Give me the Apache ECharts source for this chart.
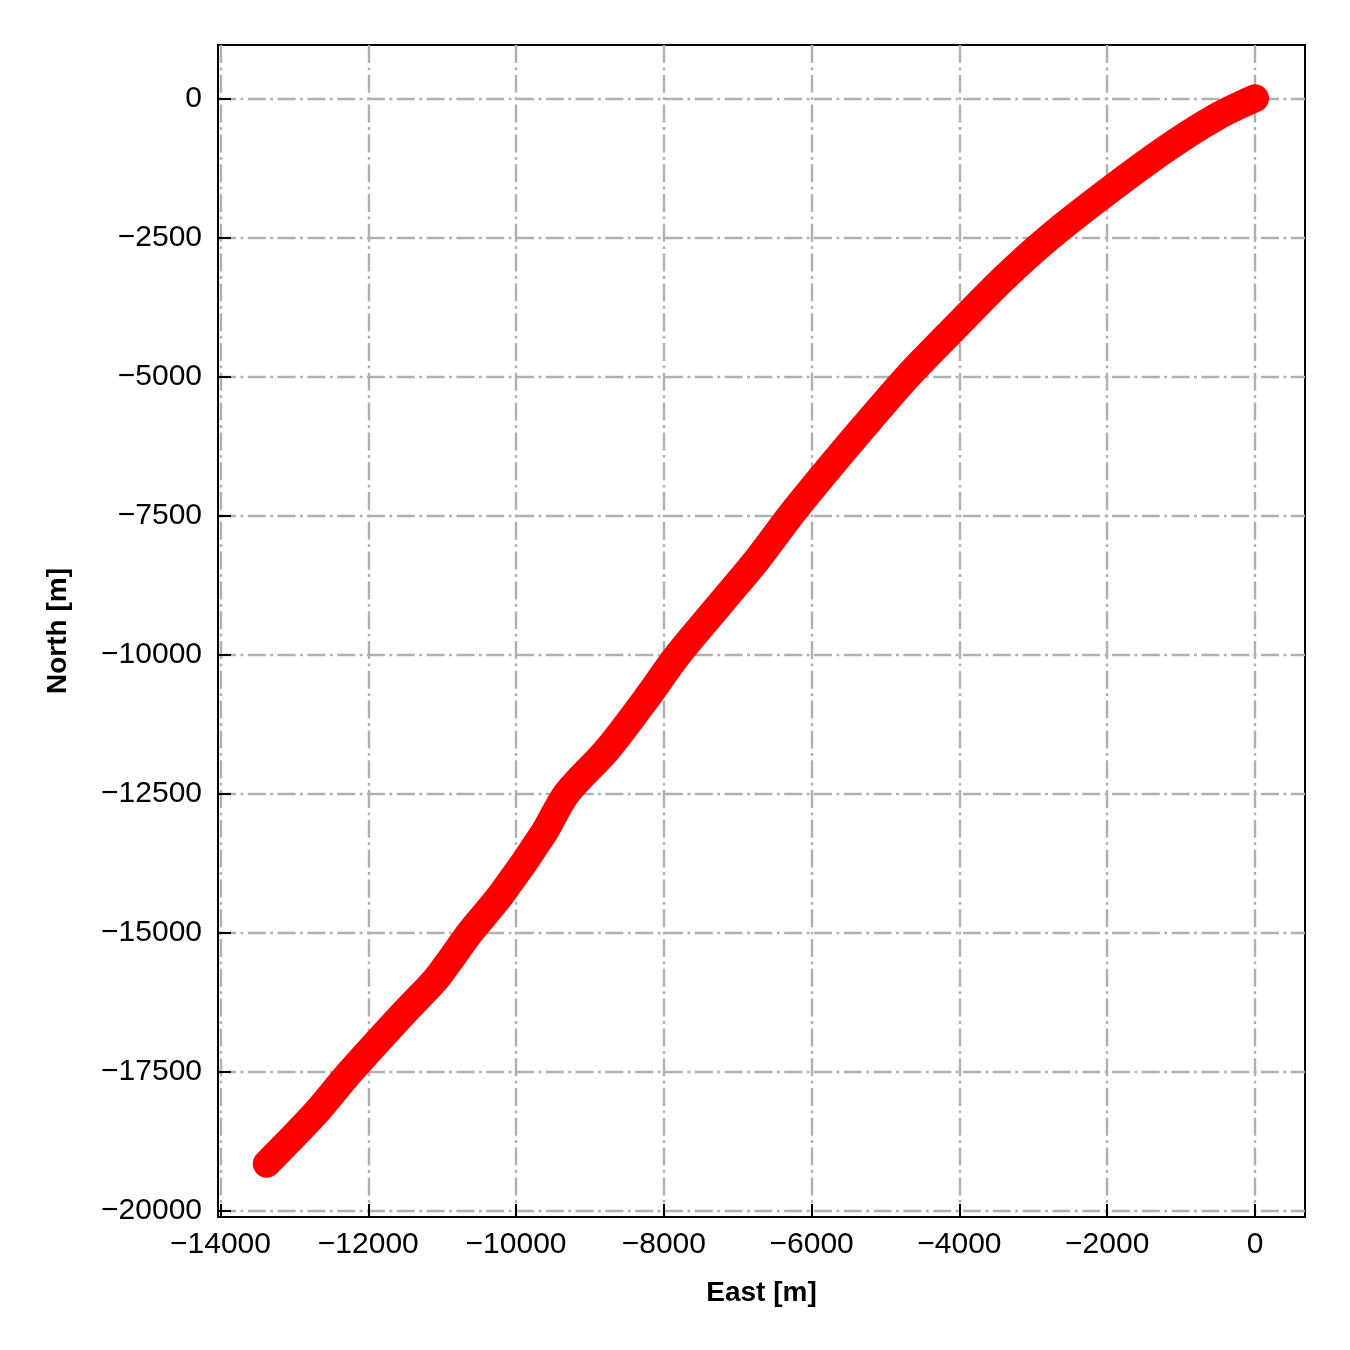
<!DOCTYPE html>
<html>
<head>
<meta charset="utf-8">
<title>East / North track</title>
<script src="https://cdn.jsdelivr.net/npm/echarts@6/dist/echarts.min.js"></script>
<style>
    html, body { margin: 0; padding: 0; background: #fff; }
    #chart { width: 1350px; height: 1350px; }
</style>
</head>
<body>
<div id="chart"></div>
<script>
// track, metres
const eastData  = [0, -518, -1195, -1999, -2774, -3424, -4093, -4696, -5332, -5900, -6283, -6743, -7195, -7804, -8254, -8773, -9314, -9630, -10193, -10622, -10893, -11096, -11525, -12246, -12720, -13374];
const northData = [0, -331, -900, -1680, -2490, -3269, -4169, -4996, -5968, -6868, -7497, -8307, -9027, -9998, -10826, -11725, -12501, -13224, -14304, -15002, -15501, -15860, -16459, -17514, -18262, -19162];

const xTicks = [-14000, -12000, -10000, -8000, -6000, -4000, -2000, 0];
const yTicks = [-20000, -17500, -15000, -12500, -10000, -7500, -5000, -2500, 0];

const xRange = [-14034, 677];
const yRange = [-20120, 959];

const fontName = 'Liberation Sans, Arial, sans-serif';
const minusFmt = v => v < 0 ? '\u2212' + Math.abs(v) : String(v);

const nameStyle = { fontFamily: fontName, fontSize: 28, fontWeight: 'bold', color: '#000' };
const tickStyle = { color: '#000', width: 2 };

// grid lines live on their own hidden axes so the black ticks sit above them
function gridAxis(ticks, range, pos) {
    return {
        type: 'value', min: range[0], max: range[1], position: pos, z: 1,
        axisLine: { show: false },
        axisTick: { show: false, customValues: ticks },
        axisLabel: { show: false, customValues: ticks },
        splitLine: { show: true, lineStyle: { color: '#b0b0b0', width: 2.4, type: [18, 4.5, 2.8, 4.5] } }
    };
}

let chart = echarts.init(document.getElementById('chart'), null, { renderer: 'canvas' });

let option = {
    backgroundColor: '#fff',
    animation: false,
    grid: {
        left: 218, right: 45, top: 45, bottom: 133,
        show: true, borderColor: '#000', borderWidth: 2,
        containLabel: false
    },
    xAxis: [{
        type: 'value',
        min: xRange[0], max: xRange[1],
        position: 'bottom', z: 3,
        name: 'East [m]',
        nameLocation: 'middle',
        nameGap: 62,
        nameTextStyle: nameStyle,
        axisLine: { show: true, onZero: false, lineStyle: { color: '#000', width: 2 } },
        axisTick: { show: true, inside: true, length: 13, customValues: xTicks, lineStyle: tickStyle },
        axisLabel: { customValues: xTicks, formatter: minusFmt, fontFamily: fontName, fontSize: 30, color: '#000', margin: 13 },
        splitLine: { show: false }
    }, gridAxis(xTicks, xRange, 'top')],
    yAxis: [{
        type: 'value',
        min: yRange[0], max: yRange[1],
        position: 'left', z: 3,
        name: 'North [m]',
        nameLocation: 'middle',
        nameRotate: 90,
        nameGap: 146,
        nameTextStyle: nameStyle,
        axisLine: { show: true, onZero: false, lineStyle: { color: '#000', width: 2 } },
        axisTick: { show: true, inside: true, length: 13, customValues: yTicks, lineStyle: tickStyle },
        axisLabel: { customValues: yTicks, formatter: minusFmt, fontFamily: fontName, fontSize: 30, color: '#000', margin: 16 },
        splitLine: { show: false }
    }, gridAxis(yTicks, yRange, 'right')],
    series: [{
        type: 'line',
        xAxisIndex: 0,
        yAxisIndex: 0,
        z: 2,
        data: eastData.map((e, i) => [e, northData[i]]),
        showSymbol: false,
        smooth: 0.3,
        clip: true,
        lineStyle: { color: '#ff0000', width: 28, cap: 'round', join: 'round' }
    }]
};

chart.setOption(option);
</script>
</body>
</html>
